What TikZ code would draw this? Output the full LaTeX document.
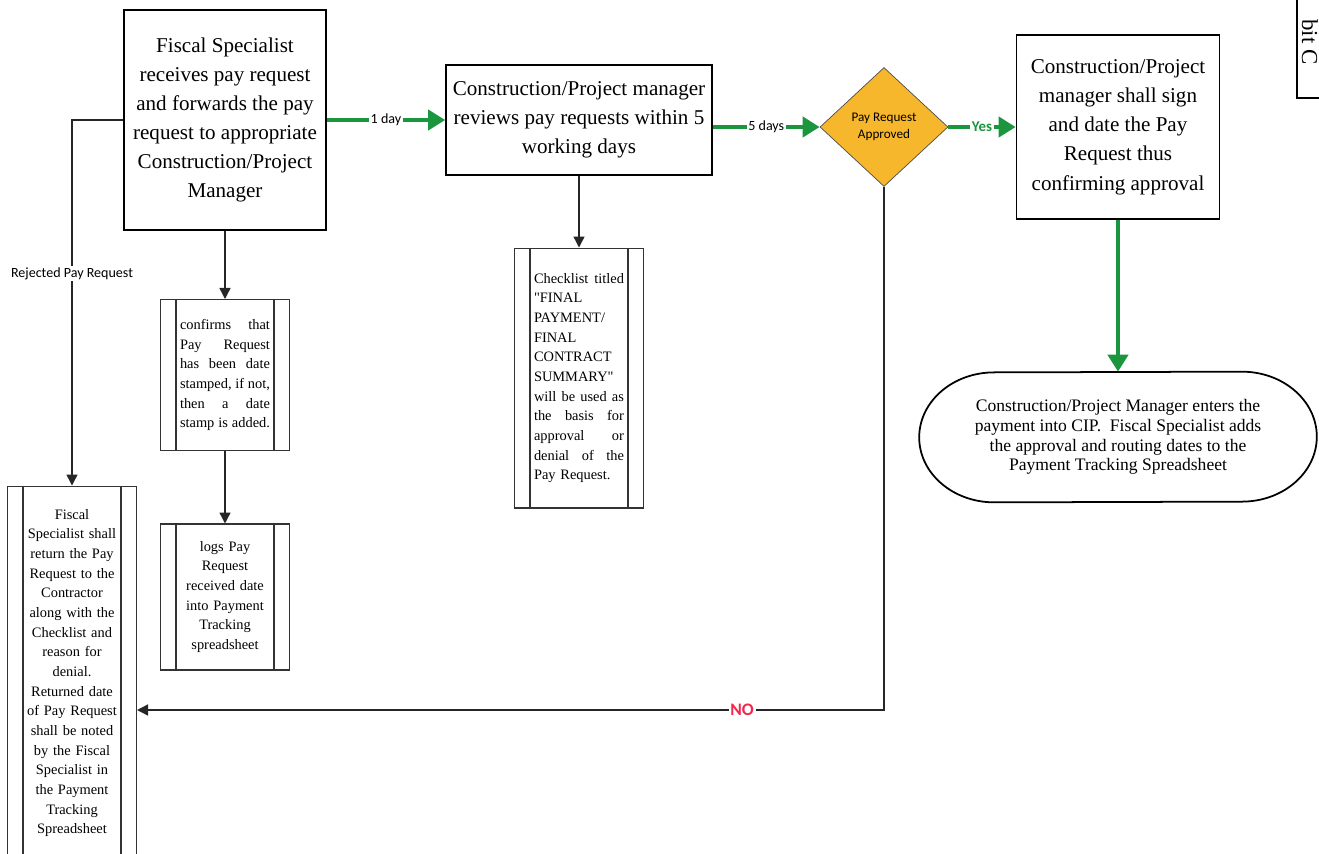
\documentclass[tikz,border=0pt]{standalone}
\usepackage{fontspec}
\setmainfont{Liberation Serif}
\newfontfamily\lblfont{Carlito}
\usetikzlibrary{shapes.geometric, arrows.meta, positioning}

\definecolor{flowgreen}{RGB}{28,150,62}
\definecolor{decorange}{RGB}{246,183,45}
\definecolor{nored}{RGB}{240,40,75}
\newcommand{\jline}[1]{{\spaceskip=0pt\relax\xspaceskip=0pt\relax\makebox[1.8cm][s]{#1}}}

\begin{document}
\begin{tikzpicture}[x=0.02cm, y=-0.02cm,
    procbox/.style={draw, line width=1pt, align=center, inner sep=2pt, font=\fontsize{12}{16.6}\selectfont},
    subbox/.style={draw=black!80, line width=0.6pt, minimum width=2.58cm, font=\fontsize{8.2}{11.2}\selectfont},
    decbox/.style={diamond, draw=black!70, fill=decorange, minimum width=2.56cm, minimum height=2.38cm, inner sep=0pt, align=center, font=\lblfont\fontsize{7.5}{10}\selectfont},
    conn/.style={draw=black!85, line width=0.8pt, -{Triangle[length=0.22cm,width=0.22cm]}},
    flow/.style={draw=flowgreen, line width=2.3pt, -{Triangle[length=0.34cm,width=0.4cm]}},
    lbl/.style={fill=white, inner sep=1pt, font=\lblfont\fontsize{8}{10}\selectfont}]
    \useasboundingbox (0,0) rectangle (1319,853); % page

    % main row
    \node[procbox, minimum width=4.04cm, minimum height=4.4cm] (fs) at (225,120) {Fiscal Specialist\\receives pay request\\and forwards the pay\\request to appropriate\\Construction/Project\\Manager};
    \node[procbox, minimum width=5.32cm, minimum height=2.2cm] (rev) at (579,120) {Construction/Project manager\\reviews pay requests within 5\\working days};
    \node[decbox] (dec) at (884,127) {Pay Request\\Approved};
    \node[procbox, minimum width=4.06cm, minimum height=3.68cm] (sign) at (1118,127) {Construction/Project\\manager shall sign\\and date the Pay\\Request thus\\confirming approval};
    \node[minimum width=7.94cm, minimum height=2.6cm, align=center, font=\fontsize{10}{11.2}\selectfont] (fin) at (1118,437) {Construction/Project Manager enters the\\payment into CIP.\ \ Fiscal Specialist adds\\the approval and routing dates to the\\Payment Tracking Spreadsheet};
    \draw[line width=1pt] ([xshift=-1.5cm]fin.north east) arc[start angle=90, end angle=-90, x radius=1.5cm, y radius=1.3cm]
        -- ([xshift=1.5cm]fin.south west) arc[start angle=270, end angle=90, x radius=1.5cm, y radius=1.3cm] -- cycle; % terminator

    % side boxes
    \node[subbox, minimum height=3.02cm, text width=1.8cm, align=left] (conf) at (225,375) {\jline{confirms that}\\\jline{Pay Request}\\\jline{has been date}\\\jline{stamped, if not,}\\\jline{then a date}\\\jline{stamp is added.}};
    \node[subbox, minimum height=2.92cm, text width=1.8cm, align=center] (logs) at (225,597) {logs Pay\\Request\\received date\\into Payment\\Tracking\\spreadsheet};
    \node[subbox, minimum height=5.2cm, text width=1.8cm, align=left] (chk) at (579,378) {\jline{Checklist titled}\\\textquotedbl FINAL\\PAYMENT/\\FINAL\\CONTRACT\\SUMMARY\textquotedbl\\\jline{will be used as}\\\jline{the basis for}\\\jline{approval or}\\\jline{denial of the}\\Pay Request.};
    \node[subbox, minimum height=7.48cm, text width=1.9cm, align=center] (retn) at (72,673) {Fiscal\\Specialist shall\\return the Pay\\Request to the\\Contractor\\along with the\\Checklist and\\reason for\\denial.\\Returned date\\of Pay Request\\shall be noted\\by the Fiscal\\Specialist in\\the Payment\\Tracking\\Spreadsheet};
    \foreach \n in {conf,logs,chk,retn}
        \draw[black!80, line width=0.6pt] ([xshift=0.32cm]\n.north west) -- ([xshift=0.32cm]\n.south west)
            ([xshift=-0.32cm]\n.north east) -- ([xshift=-0.32cm]\n.south east); % inner bars

    % exhibit tab, cut by the page edge
    \draw[line width=0.8pt] (1297,-5) -- (1297,98) -- (1330,98);
    \node[rotate=-90, inner sep=0pt, font=\fontsize{13}{15}\selectfont] (tab) at (1310,42) {bit C};

    % green flow
    \draw[flow] (fs.east) -- node[lbl] {1 day} (rev.west);
    \draw[flow] (rev.east |- dec.west) -- node[lbl] {5 days} (dec.west);
    \draw[flow] (dec.east) -- node[lbl, text=flowgreen, font=\lblfont\bfseries\fontsize{8.5}{10}\selectfont] {Yes} (sign.west);
    \draw[flow, line width=2.6pt] (sign.south) -- (fin.north);

    % black connectors
    \draw[conn] (fs.south) -- (conf.north);
    \draw[conn] (conf.south) -- (logs.north);
    \draw[conn] (rev.south) -- (chk.north);
    \draw[conn] (fs.west) -| node[lbl, pos=0.71] {Rejected Pay Request} (retn.north);
    \coordinate (nocorner) at (884,710);
    \draw[conn] (dec.south) -- (nocorner) -- node[lbl, pos=0.19, text=nored, font=\lblfont\bfseries\fontsize{10}{12}\selectfont] {NO} (retn.east |- nocorner);
\end{tikzpicture}
\end{document}
